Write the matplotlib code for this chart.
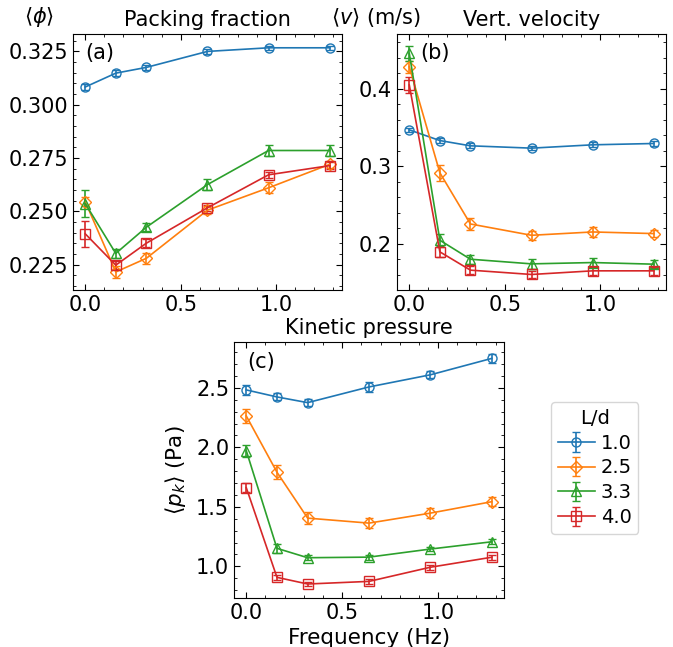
import numpy as np
import matplotlib
matplotlib.use("Agg")
import matplotlib.pyplot as plt

# Driving frequency (Hz) and aspect ratios L/d
freq = [0.0, 0.16, 0.32, 0.64, 0.96, 1.28]
aspect = ["1.0", "2.5", "3.3", "4.0"]
colors = ["tab:blue", "tab:orange", "tab:green", "tab:red"]
markers = ["o", "D", "^", "s"]

# Packing fraction <phi>
phi = [
    [0.3083, 0.3148, 0.3175, 0.3250, 0.3267, 0.3267],
    [0.2545, 0.2215, 0.2279, 0.2505, 0.2610, 0.2720],
    [0.2536, 0.2302, 0.2425, 0.2625, 0.2785, 0.2785],
    [0.2394, 0.2247, 0.2350, 0.2516, 0.2671, 0.2714],
]
phi_err = [
    [0.0015, 0.0013, 0.0013, 0.0012, 0.0010, 0.0010],
    [0.0020, 0.0030, 0.0025, 0.0020, 0.0025, 0.0015],
    [0.0065, 0.0020, 0.0020, 0.0025, 0.0025, 0.0025],
    [0.0060, 0.0020, 0.0020, 0.0015, 0.0015, 0.0015],
]

# Vertical velocity <v> (m/s)
vel = [
    [0.3468, 0.3330, 0.3262, 0.3232, 0.3275, 0.3292],
    [0.4283, 0.2914, 0.2253, 0.2107, 0.2150, 0.2129],
    [0.4455, 0.2043, 0.1798, 0.1738, 0.1755, 0.1734],
    [0.4047, 0.1893, 0.1657, 0.1601, 0.1648, 0.1648],
]
vel_err = [
    [0.003, 0.003, 0.003, 0.003, 0.003, 0.003],
    [0.008, 0.010, 0.008, 0.006, 0.006, 0.005],
    [0.010, 0.008, 0.006, 0.006, 0.006, 0.005],
    [0.010, 0.006, 0.005, 0.005, 0.005, 0.005],
]

# Kinetic pressure <p_k> (Pa)
pk = [
    [2.483, 2.424, 2.376, 2.508, 2.610, 2.748],
    [2.264, 1.791, 1.405, 1.363, 1.447, 1.543],
    [1.972, 1.151, 1.072, 1.077, 1.145, 1.206],
    [1.661, 0.907, 0.851, 0.873, 0.992, 1.076],
]
pk_err = [
    [0.04, 0.03, 0.03, 0.04, 0.03, 0.04],
    [0.06, 0.06, 0.05, 0.04, 0.04, 0.04],
    [0.05, 0.04, 0.02, 0.02, 0.02, 0.02],
    [0.04, 0.02, 0.02, 0.02, 0.02, 0.02],
]

plt.rcParams["font.size"] = 15
plt.rcParams["xtick.direction"] = "in"
plt.rcParams["ytick.direction"] = "in"
plt.rcParams["xtick.top"] = True
plt.rcParams["ytick.right"] = True
plt.rcParams["xtick.minor.visible"] = True
plt.rcParams["ytick.minor.visible"] = True
plt.rcParams["xtick.major.size"] = 4.5
plt.rcParams["ytick.major.size"] = 4.5
plt.rcParams["xtick.minor.size"] = 2.2
plt.rcParams["ytick.minor.size"] = 2.2

fig = plt.figure(figsize=(6.73, 6.47), dpi=100)
ax_a = fig.add_axes([0.1085, 0.5518, 0.3995, 0.3956])
ax_b = fig.add_axes([0.5900, 0.5518, 0.3996, 0.3956])
ax_c = fig.add_axes([0.3477, 0.0757, 0.4012, 0.3957])


def draw(ax, data, err):
    handles = []
    for i in range(len(aspect)):
        h = ax.errorbar(freq, data[i], yerr=err[i], color=colors[i],
                        marker=markers[i], mfc="none", ms=6.5, capsize=3,
                        lw=1.2, label=aspect[i])
        handles.append(h)
    return handles


handles = draw(ax_a, phi, phi_err)
draw(ax_b, vel, vel_err)
draw(ax_c, pk, pk_err)

ax_a.set_title("Packing fraction", fontsize=15)
ax_a.set_ylabel(r"$\langle \phi \rangle$", rotation=0)
ax_a.yaxis.set_label_coords(-0.07, 1.02)
ax_a.yaxis.label.set_ha("right")
ax_a.yaxis.label.set_va("bottom")
ax_a.set_yticks([0.225, 0.250, 0.275, 0.300, 0.325])
ax_a.text(0.045, 0.925, "(a)", transform=ax_a.transAxes, va="center")

ax_b.set_title("Vert. velocity", fontsize=15)
ax_b.set_ylabel(r"$\langle v \rangle$ (m/s)", rotation=0)
ax_b.yaxis.set_label_coords(-0.245, 1.02)
ax_b.yaxis.label.set_ha("left")
ax_b.yaxis.label.set_va("bottom")
ax_b.set_yticks([0.2, 0.3, 0.4])
ax_b.text(0.085, 0.925, "(b)", transform=ax_b.transAxes, va="center")

ax_c.set_title("Kinetic pressure", fontsize=15)
ax_c.set_ylabel(r"$\langle p_k \rangle$ (Pa)", fontsize=15.5)
ax_c.yaxis.set_label_coords(-0.17, 0.5)
ax_c.set_xlabel("Frequency (Hz)", fontsize=15.5)
ax_c.set_yticks([1.0, 1.5, 2.0, 2.5])
ax_c.text(0.048, 0.92, "(c)", transform=ax_c.transAxes, va="center")

for ax in (ax_a, ax_b, ax_c):
    ax.set_xticks([0.0, 0.5, 1.0])

fig.legend(handles=handles, title="L/d", loc="upper left",
           bbox_to_anchor=(0.8187, 0.3787), fontsize=14, title_fontsize=14,
           handlelength=1.9, handletextpad=0.3, labelspacing=0.3,
           borderpad=0.35, borderaxespad=0.0)

fig.savefig("out.png", dpi=100)
